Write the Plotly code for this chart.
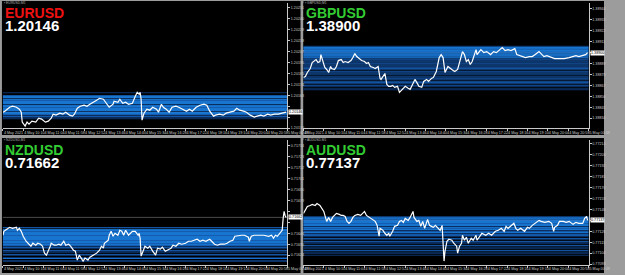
import plotly.graph_objects as go

W, H = 625, 275

# ---------------- data ----------------
time_ticks = [0, 21, 42, 63, 84, 105, 126, 147, 168, 189, 210, 231, 252, 273, 294]
time_labels = ["4 May 2021", "4 May 10:10", "4 May 11:04", "4 May 11:58", "4 May 12:52",
               "4 May 13:46", "4 May 14:40", "4 May 15:34", "4 May 16:28", "4 May 17:22",
               "4 May 18:16", "4 May 19:10", "4 May 20:04", "4 May 20:58", "5 May 00:48"]

eur_bars = [0,2,7,10,14,17,19,20,23,25,27,30,34,37,40,44,47,50,52,55,59,62,65,69,72,74,77,80,84,87,
            90,94,97,100,104,107,110,114,115,119,121,124,127,130,134,137,139,141,142,143,144,146,149,152,155,159,161,164,166,169,
            172,175,179,182,186,190,193,196,200,204,208,211,214,218,220,224,228,231,235,239,242,245,249,252,256,260,263,267,270,274,
            277,281,285,289,293]
eur_price = [1.20146,1.20147,1.20151,1.20152,1.20151,1.20149,1.20146,1.20136,1.20132,1.20136,
             1.20134,1.20137,1.20136,1.20140,1.20139,1.20136,1.20137,1.20140,1.20144,1.20143,
             1.20145,1.20144,1.20146,1.20143,1.20142,1.20144,1.20150,1.20152,1.20153,1.20152,
             1.20154,1.20156,1.20158,1.20160,1.20159,1.20155,1.20151,1.20154,1.20157,1.20156,
             1.20159,1.20155,1.20156,1.20154,1.20155,1.20162,1.20166,1.20164,1.20166,1.20159,
             1.20138,1.20145,1.20149,1.20148,1.20151,1.20149,1.20146,1.20154,1.20151,1.20149,
             1.20146,1.20151,1.20152,1.20151,1.20149,1.20147,1.20149,1.20147,1.20151,1.20153,
             1.20154,1.20153,1.20147,1.20142,1.20143,1.20144,1.20143,1.20145,1.20146,1.20147,
             1.20150,1.20148,1.20147,1.20146,1.20143,1.20141,1.20142,1.20143,1.20142,1.20144,
             1.20143,1.20144,1.20144,1.20145,1.20146]
eur_levels = [1.20166,1.20165,1.20164,1.20163,1.20162,1.20161,1.20160,1.20159,1.20158,1.20157,
              1.20156,1.20155,1.20154,1.20153,1.20152,1.20151,1.20150,1.20149,1.20148,1.20147,
              1.20146,1.20145,1.20144,1.20143,1.20142,1.20141,1.20140]
eur_volume = [1,0,0,2,3,3,1,3,2,3,3,3,1,3,3,2,3,3,3,1,3,3,2,1,2,1,1]
eur_ticks = [1.20251,1.20240,1.20229,1.20218,1.20207,1.20196,1.20185,1.20174,1.20163,1.20152,1.20141,1.20130]

gbp_bars = [0,2,4,7,9,11,13,15,17,18,20,22,24,26,28,29,32,34,36,39,41,43,46,49,51,53,55,58,60,63,
            65,67,69,72,74,77,79,80,83,84,86,88,90,92,94,97,99,100,103,105,108,110,113,115,118,119,122,124,127,129,
            132,134,137,139,140,142,144,146,149,153,156,159,161,163,164,166,168,170,172,174,176,178,179,181,183,186,189,193,196,199,
            203,205,208,211,214,218,220,223,226,229,233,236,239,243,244,248,251,254,259,264,269,274,278,281,284,288,291,293]
gbp_price = [1.38875,1.38876,1.38880,1.38884,1.38890,1.38892,1.38893,1.38890,1.38891,1.38898,
             1.38890,1.38885,1.38883,1.38880,1.38886,1.38884,1.38883,1.38886,1.38892,1.38893,
             1.38890,1.38891,1.38890,1.38892,1.38895,1.38899,1.38896,1.38894,1.38892,1.38891,
             1.38889,1.38890,1.38886,1.38885,1.38884,1.38886,1.38874,1.38873,1.38877,1.38879,
             1.38868,1.38866,1.38866,1.38867,1.38865,1.38866,1.38860,1.38861,1.38865,1.38866,
             1.38864,1.38863,1.38869,1.38873,1.38868,1.38866,1.38865,1.38871,1.38873,1.38871,
             1.38874,1.38875,1.38881,1.38890,1.38895,1.38898,1.38895,1.38880,1.38886,1.38883,
             1.38881,1.38883,1.38891,1.38898,1.38901,1.38898,1.38891,1.38893,1.38888,1.38891,
             1.38896,1.38903,1.38898,1.38901,1.38903,1.38900,1.38901,1.38898,1.38901,1.38900,
             1.38903,1.38905,1.38902,1.38903,1.38902,1.38904,1.38898,1.38897,1.38896,1.38895,
             1.38896,1.38896,1.38898,1.38901,1.38900,1.38896,1.38897,1.38896,1.38894,1.38894,
             1.38894,1.38895,1.38896,1.38897,1.38896,1.38897,1.38898,1.38900]
gbp_levels = [1.38907,1.38906,1.38905,1.38904,1.38903,1.38902,1.38901,1.38900,1.38899,1.38898,
              1.38897,1.38896,1.38895,1.38894,1.38893,1.38892,1.38891,1.38890,1.38889,1.38888,
              1.38887,1.38886,1.38885,1.38884,1.38883,1.38882,1.38881,1.38880,1.38879,1.38878,
              1.38877,1.38876,1.38875,1.38874,1.38873,1.38872,1.38871,1.38870,1.38869,1.38868,
              1.38867,1.38866,1.38865,1.38864,1.38863]
gbp_volume = [1,3,3,2,3,3,3,2,3,3, 3,2,3,1,2,0,2,1,2,0, 2,1,2,2,0,1,2,0,2,1,
              0,2,1,2,0,1,2,2,0,1, 2,1,0,1,1]
gbp_ticks = [1.38944,1.38933,1.38922,1.38911,1.38900,1.38889,1.38878,1.38867,1.38856,1.38845,1.38834]

nzd_bars = [0,1,4,7,10,14,15,17,19,21,24,26,29,31,34,36,39,41,43,45,47,49,50,53,55,58,60,63,65,68,
            70,73,75,77,79,81,83,85,88,90,94,97,100,102,104,105,109,110,112,114,116,119,121,123,125,127,130,132,134,137,
            140,141,142,143,145,147,150,152,155,158,160,163,165,168,170,174,176,179,182,185,189,192,195,199,201,204,207,210,214,216,
            219,222,225,229,232,235,238,240,244,247,250,254,255,257,260,265,270,275,278,280,282,284,287,289,290,291,292,293]
nzd_price = [0.71644,0.71648,0.71650,0.71652,0.71651,0.71652,0.71649,0.71651,0.71648,0.71643,
             0.71638,0.71636,0.71633,0.71636,0.71634,0.71636,0.71635,0.71633,0.71626,0.71624,
             0.71628,0.71633,0.71636,0.71634,0.71634,0.71635,0.71634,0.71638,0.71634,0.71635,
             0.71633,0.71629,0.71628,0.71619,0.71624,0.71621,0.71618,0.71621,0.71619,0.71622,
             0.71624,0.71626,0.71629,0.71633,0.71631,0.71636,0.71639,0.71644,0.71648,0.71643,
             0.71646,0.71644,0.71649,0.71648,0.71644,0.71649,0.71644,0.71646,0.71648,0.71648,
             0.71644,0.71646,0.71641,0.71623,0.71629,0.71633,0.71631,0.71633,0.71628,0.71624,
             0.71631,0.71630,0.71632,0.71628,0.71629,0.71631,0.71634,0.71633,0.71636,0.71635,
             0.71636,0.71638,0.71638,0.71639,0.71640,0.71638,0.71639,0.71638,0.71640,0.71638,
             0.71635,0.71634,0.71635,0.71635,0.71636,0.71638,0.71639,0.71643,0.71644,0.71644,
             0.71644,0.71642,0.71638,0.71643,0.71644,0.71644,0.71644,0.71643,0.71644,0.71641,
             0.71644,0.71643,0.71646,0.71649,0.71661,0.71668,0.71664,0.71662]
nzd_levels = [0.71652,0.71651,0.71650,0.71649,0.71648,0.71647,0.71646,0.71645,0.71644,0.71643,
              0.71642,0.71641,0.71640,0.71639,0.71638,0.71637,0.71636,0.71635,0.71634,0.71633,
              0.71632,0.71631,0.71630,0.71629,0.71628,0.71627,0.71626,0.71625,0.71624,0.71623,
              0.71622,0.71621,0.71620,0.71619,0.71618]
nzd_volume = [2,0,3,3,2,3,3,3,2,3, 3,3,3,2,3,3,2,3,2,1, 2,1,0,2,1,1,0,2,1,0, 1,2,0,1,1]
nzd_ticks = [0.71734,0.71723,0.71712,0.71701,0.71690,0.71679,0.71668,0.71657,0.71646,0.71635,0.71624]

aud_bars = [0,2,4,7,9,12,14,17,19,21,23,24,26,28,30,32,34,37,39,41,43,45,47,49,51,53,56,59,61,63,
            65,68,70,72,74,76,78,79,82,84,86,88,89,92,94,97,99,101,103,105,108,110,113,114,117,119,121,123,125,128,
            130,132,134,136,138,139,141,143,144,145,146,148,150,153,155,158,159,161,163,164,166,168,170,173,175,178,179,182,184,188,
            191,194,198,201,204,207,209,211,214,217,219,221,224,228,231,233,236,239,243,245,249,253,256,258,259,262,264,268,271,274,
            278,281,284,288,290,292,293]
aud_price = [0.77144,0.77147,0.77151,0.77152,0.77153,0.77152,0.77154,0.77152,0.77149,0.77146,
             0.77139,0.77136,0.77140,0.77136,0.77140,0.77142,0.77144,0.77143,0.77142,0.77142,
             0.77141,0.77136,0.77134,0.77136,0.77140,0.77142,0.77143,0.77142,0.77144,0.77146,
             0.77142,0.77140,0.77139,0.77137,0.77136,0.77132,0.77121,0.77129,0.77127,0.77124,
             0.77122,0.77124,0.77121,0.77126,0.77131,0.77132,0.77136,0.77137,0.77135,0.77139,
             0.77137,0.77140,0.77146,0.77140,0.77136,0.77137,0.77131,0.77136,0.77129,0.77138,
             0.77132,0.77131,0.77130,0.77132,0.77130,0.77129,0.77127,0.77132,0.77112,0.77096,
             0.77106,0.77116,0.77118,0.77117,0.77114,0.77111,0.77104,0.77111,0.77114,0.77122,
             0.77117,0.77120,0.77114,0.77119,0.77117,0.77122,0.77117,0.77122,0.77124,0.77122,
             0.77124,0.77122,0.77126,0.77127,0.77129,0.77126,0.77131,0.77129,0.77132,0.77134,
             0.77129,0.77127,0.77129,0.77126,0.77130,0.77129,0.77132,0.77134,0.77137,0.77136,
             0.77135,0.77136,0.77134,0.77126,0.77130,0.77132,0.77136,0.77136,0.77135,0.77136,
             0.77133,0.77135,0.77134,0.77134,0.77139,0.77141,0.77137]
aud_levels = [0.77141,0.77140,0.77139,0.77138,0.77137,0.77136,0.77135,0.77134,0.77133,0.77132,
              0.77131,0.77130,0.77129,0.77128,0.77127,0.77126,0.77125,0.77124,0.77123,0.77122,
              0.77121,0.77120,0.77119,0.77118,0.77117,0.77116,0.77115,0.77114,0.77113,0.77112,
              0.77111,0.77110,0.77109,0.77108,0.77107,0.77106,0.77105,0.77104,0.77103,0.77102]
aud_volume = [2,3,3,2,3,3,3,2,3,3, 1,3,2,3,1,2,3,1,2,2, 1,0,2,1,0,2,1,1,0,2, 0,1,1,0,2,0,1,1,0,1]
aud_ticks = [0.77214,0.77203,0.77192,0.77181,0.77170,0.77159,0.77148,0.77137,0.77126,0.77115,0.77104,0.77093]

symbols = ["EURUSD", "GBPUSD", "NZDUSD", "AUDUSD"]
last_prices = [1.20146, 1.38900, 0.71662, 0.77137]

for a, b in [(eur_bars, eur_price), (gbp_bars, gbp_price), (nzd_bars, nzd_price), (aud_bars, aud_price),
             (eur_levels, eur_volume), (gbp_levels, gbp_volume), (nzd_levels, nzd_volume), (aud_levels, aud_volume)]:
    assert len(a) == len(b), (len(a), len(b))

# ---------------- styling / layout ----------------
FRAME = "#9c9c9c"
AXIS = "#c8c8c8"
TXT = "#c8c8c8"
VOL_COLORS = {1: "#0c3368", 2: "#1a6fd4", 3: "#1e90ff"}
TITLE_COLORS = ["#ee1111", "#33cc33", "#33cc33", "#33cc33"]
LEVEL_STEP = 0.00001
TICK_FONT = dict(size=3.7, color=TXT, family="Liberation Sans")

plot_boxes = [(3, 297, 3, 129), (314, 609, 3, 129), (3, 297, 141, 267), (314, 609, 141, 267)]
panel_boxes = [(2, 311, 1, 136), (314, 625, 1, 136), (2, 311, 139, 275), (314, 625, 139, 275)]
yranges = [(1.20130, 1.20256), (1.38824, 1.38950), (0.71614, 0.71740), (0.77092, 0.77218)]

series = [(eur_bars, eur_price, eur_levels, eur_volume, eur_ticks),
          (gbp_bars, gbp_price, gbp_levels, gbp_volume, gbp_ticks),
          (nzd_bars, nzd_price, nzd_levels, nzd_volume, nzd_ticks),
          (aud_bars, aud_price, aud_levels, aud_volume, aud_ticks)]

fig = go.Figure()
shapes = []
annotations = []
layout = dict(width=W, height=H, margin=dict(l=0, r=0, t=0, b=0),
              paper_bgcolor=FRAME, plot_bgcolor="#000000", showlegend=False)

for (px0, px1, py0, py1) in panel_boxes:
    shapes.append(dict(type="rect", xref="paper", yref="paper", x0=px0 / W, x1=px1 / W,
                       y0=1 - py1 / H, y1=1 - py0 / H, fillcolor="#000000", line=dict(width=0), layer="below"))

for i, (bars, price, levels, volume, ticks) in enumerate(series):
    n = i + 1
    sx = "" if n == 1 else str(n)
    xname, yname = "x" + sx, "y" + sx
    x0, x1, y0, y1 = plot_boxes[i]
    layout["xaxis" + sx] = dict(
        domain=[x0 / W, x1 / W], range=[0, 294], anchor=yname, showgrid=False, zeroline=False,
        tickmode="array", tickvals=time_ticks, ticktext=time_labels, ticklabelposition="outside right",
        tickangle=0, ticks="outside", ticklen=2, tickcolor=AXIS, tickwidth=1, tickfont=TICK_FONT,
        showline=True, linecolor=AXIS, linewidth=1)
    ytext = [("" if abs(t - last_prices[i]) < 0.00006 else f"{t:.5f}") for t in ticks]
    layout["yaxis" + sx] = dict(
        domain=[1 - y1 / H, 1 - y0 / H], range=list(yranges[i]), anchor=xname, side="right",
        showgrid=False, zeroline=False, tickmode="array", tickvals=ticks, ticktext=ytext,
        ticks="outside", ticklen=2, tickcolor=AXIS, tickwidth=1, tickfont=TICK_FONT,
        showline=True, linecolor=AXIS, linewidth=1)

    shapes.append(dict(type="line", xref=xname + " domain", yref=yname, x0=0, x1=1,
                       y0=last_prices[i], y1=last_prices[i], line=dict(color="#4a4a4a", width=1), layer="below"))
    for lv, vol in zip(levels, volume):
        if vol == 0:
            continue
        shapes.append(dict(type="rect", xref=xname + " domain", yref=yname, x0=0, x1=1,
                           y0=lv - LEVEL_STEP, y1=lv, fillcolor=VOL_COLORS[vol],
                           line=dict(width=0), layer="below"))

    fig.add_trace(go.Scatter(x=bars, y=price, mode="lines", line=dict(color="#ffffff", width=1.2),
                             xaxis=xname, yaxis=yname, hoverinfo="skip"))

    annotations.append(dict(xref=xname + " domain", yref=yname, x=1, y=last_prices[i], xanchor="left",
                            yanchor="middle", xshift=1, text=f"{last_prices[i]:.5f}", showarrow=False,
                            font=dict(size=3.7, color="#000000", family="Liberation Sans"),
                            bgcolor="#ffffff", borderpad=0))

    bx, by = panel_boxes[i][0], panel_boxes[i][2]
    annotations.append(dict(xref="paper", yref="paper", x=(bx + 1) / W, y=1 - (by + 2.2) / H,
                            xanchor="left", yanchor="middle", text="▪ " + symbols[i] + ",M1", showarrow=False,
                            font=dict(size=3.3, color="#b0b0b0", family="Liberation Sans"), borderpad=0))
    annotations.append(dict(xref="paper", yref="paper", x=(bx + 2) / W, y=1 - (by + 12) / H,
                            xanchor="left", yanchor="middle", text="<b>" + symbols[i] + "</b>", showarrow=False,
                            font=dict(size=14, color=TITLE_COLORS[i], family="Liberation Sans"), borderpad=0))
    annotations.append(dict(xref="paper", yref="paper", x=(bx + 2) / W, y=1 - (by + 24.5) / H,
                            xanchor="left", yanchor="middle", text=f"<b>{last_prices[i]:.5f}</b>", showarrow=False,
                            font=dict(size=15, color="#ffffff", family="Liberation Sans"), borderpad=0))

layout["shapes"] = shapes
layout["annotations"] = annotations
fig.update_layout(**layout)
fig.write_html("out.html")
